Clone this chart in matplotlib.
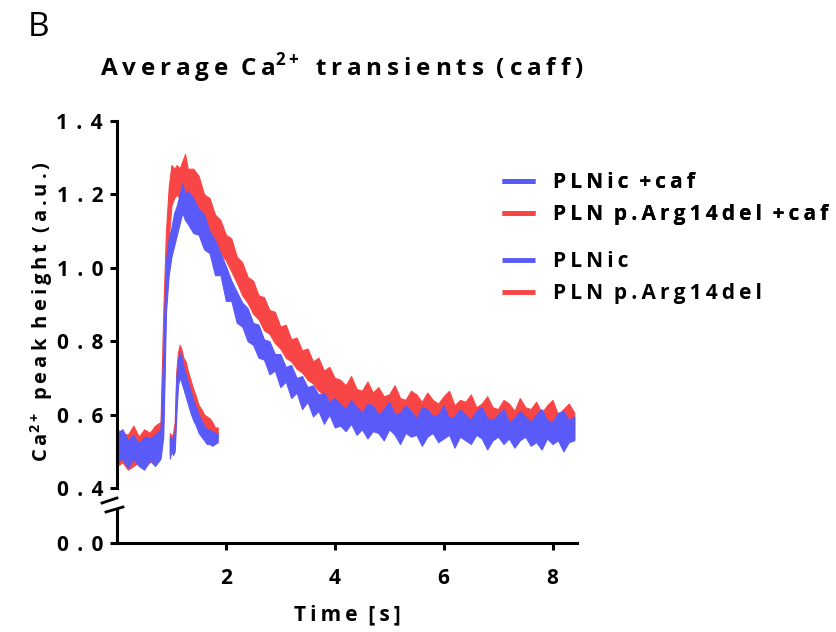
import matplotlib
matplotlib.use('Agg')
import matplotlib.pyplot as plt
from matplotlib.lines import Line2D
from matplotlib.ticker import FuncFormatter

plt.rcParams['font.family'] = ['Open Sans', 'DejaVu Sans']
plt.rcParams['font.weight'] = 'bold'
plt.rcParams['axes.labelweight'] = 'bold'
plt.rcParams['mathtext.fontset'] = 'custom'
plt.rcParams['mathtext.rm'] = 'Open Sans:bold'
plt.rcParams['mathtext.bf'] = 'Open Sans:bold'

BLUE = '#5a5af8'
RED = '#f84545'

# time axis of the caffeine transients (s)
t_caf = [0.0, 0.1, 0.2, 0.3, 0.4, 0.5, 0.6, 0.7, 0.8, 0.85, 0.9, 0.95, 1.0, 1.05,
         1.1, 1.15, 1.2, 1.25, 1.3, 1.4, 1.5, 1.6, 1.7, 1.8, 1.9, 2.0, 2.1, 2.2,
         2.3, 2.4, 2.5, 2.6, 2.7, 2.8, 2.9, 3.0, 3.1, 3.2, 3.3, 3.4, 3.5, 3.6,
         3.7, 3.8, 3.9, 4.0, 4.1, 4.2, 4.3, 4.4, 4.5, 4.6, 4.7, 4.8, 4.9, 5.0,
         5.1, 5.2, 5.3, 5.4, 5.5, 5.6, 5.7, 5.8, 5.9, 6.0, 6.1, 6.2, 6.3, 6.4,
         6.5, 6.6, 6.7, 6.8, 6.9, 7.0, 7.1, 7.2, 7.3, 7.4, 7.5, 7.6, 7.7, 7.8,
         7.9, 8.0, 8.1, 8.2, 8.3, 8.4]

# PLNic +caf (band: lower / upper edge of the noisy trace)
plnic_caf_lo = [0.47, 0.48, 0.455, 0.48, 0.46, 0.45, 0.475, 0.46, 0.48, 0.54, 0.88, 0.98,
                1.03, 1.06, 1.09, 1.12, 1.15, 1.13, 1.12,
                1.095, 1.09, 1.05, 1.04, 0.98, 0.98, 0.91, 0.91, 0.85, 0.84, 0.80,
                0.79, 0.755, 0.75, 0.71, 0.72, 0.675, 0.69, 0.645, 0.66, 0.615, 0.635,
                0.595, 0.61, 0.575, 0.60, 0.565,
                0.57, 0.555, 0.575, 0.545, 0.56, 0.535, 0.555, 0.55, 0.53, 0.56, 0.545,
                0.52, 0.55, 0.54, 0.545, 0.515, 0.54, 0.55, 0.525, 0.535, 0.545, 0.51,
                0.54, 0.53, 0.52, 0.545, 0.535, 0.505, 0.53, 0.54, 0.52, 0.535, 0.51,
                0.53, 0.54, 0.515, 0.525, 0.505, 0.535, 0.52, 0.53, 0.50, 0.525, 0.53]
plnic_caf_hi = [0.55, 0.56, 0.53, 0.545, 0.52, 0.54, 0.535, 0.545, 0.56, 0.78, 1.02, 1.08,
                1.11, 1.15, 1.17, 1.20, 1.23, 1.20, 1.21,
                1.19, 1.16, 1.145, 1.10, 1.075, 1.04, 1.005, 0.965, 0.935, 0.905, 0.89,
                0.85, 0.845, 0.805, 0.80, 0.765, 0.765, 0.73, 0.735, 0.70, 0.705, 0.675,
                0.68, 0.655, 0.66, 0.635, 0.645,
                0.63, 0.615, 0.64, 0.62, 0.605, 0.63, 0.625, 0.60, 0.615, 0.635, 0.60,
                0.605, 0.625, 0.61, 0.59, 0.62, 0.615, 0.595, 0.60, 0.625, 0.59, 0.595,
                0.615, 0.60, 0.585, 0.61, 0.62, 0.59, 0.585, 0.60, 0.615, 0.58, 0.59,
                0.61, 0.595, 0.58, 0.60, 0.615, 0.585, 0.58, 0.605, 0.61, 0.585, 0.595]

# PLN p.Arg14del +caf
arg14_caf_lo = [0.46, 0.47, 0.45, 0.46, 0.47, 0.455, 0.47, 0.48, 0.49, 0.58, 0.94, 1.08,
                1.17, 1.19, 1.20, 1.19, 1.21, 1.20, 1.19,
                1.19, 1.16, 1.13, 1.10, 1.075, 1.04, 1.02, 0.99, 0.96, 0.925, 0.905,
                0.875, 0.86, 0.83, 0.82, 0.795, 0.78, 0.755, 0.745, 0.725, 0.715, 0.695,
                0.685, 0.665, 0.655, 0.64, 0.635,
                0.62, 0.61, 0.615, 0.60, 0.595, 0.605, 0.59, 0.595, 0.58, 0.585, 0.59,
                0.575, 0.57, 0.58, 0.575, 0.565, 0.575, 0.565, 0.56, 0.565, 0.57, 0.555,
                0.56, 0.555, 0.56, 0.55, 0.555, 0.56, 0.545, 0.55, 0.555, 0.545, 0.545,
                0.55, 0.54, 0.54, 0.545, 0.535, 0.54, 0.545, 0.535, 0.54, 0.54, 0.535]
arg14_caf_hi = [0.56, 0.55, 0.545, 0.57, 0.54, 0.56, 0.55, 0.57, 0.58, 0.88, 1.10, 1.22,
                1.28, 1.27, 1.28, 1.27, 1.29, 1.31, 1.27,
                1.27, 1.25, 1.20, 1.19, 1.145, 1.13, 1.09, 1.08, 1.03, 1.015, 0.975,
                0.965, 0.925, 0.92, 0.885, 0.88, 0.84, 0.845, 0.805, 0.81, 0.775, 0.78,
                0.745, 0.755, 0.72, 0.73, 0.70,
                0.695, 0.68, 0.705, 0.67, 0.665, 0.69, 0.66, 0.675, 0.65, 0.655, 0.68,
                0.645, 0.64, 0.665, 0.655, 0.635, 0.66, 0.64, 0.63, 0.65, 0.665, 0.625,
                0.64, 0.635, 0.655, 0.62, 0.63, 0.65, 0.62, 0.615, 0.64, 0.63, 0.61,
                0.645, 0.62, 0.615, 0.635, 0.605, 0.625, 0.64, 0.60, 0.615, 0.63, 0.605]

# transients without caffeine
t_ctrl = [0.97, 1.0, 1.03, 1.06, 1.09, 1.12, 1.15, 1.18, 1.22, 1.26, 1.3, 1.35,
          1.4, 1.45, 1.5, 1.55, 1.6, 1.65, 1.7, 1.75, 1.8, 1.85]
plnic_lo = [0.48, 0.50, 0.49, 0.50, 0.60, 0.68, 0.70, 0.69, 0.67, 0.65, 0.63, 0.605,
            0.585, 0.57, 0.55, 0.54, 0.53, 0.52, 0.52, 0.515, 0.52, 0.525]
plnic_hi = [0.54, 0.53, 0.54, 0.55, 0.70, 0.75, 0.77, 0.76, 0.73, 0.71, 0.69, 0.665,
            0.64, 0.62, 0.60, 0.585, 0.57, 0.56, 0.56, 0.555, 0.55, 0.55]
arg14_lo = [0.49, 0.51, 0.50, 0.52, 0.63, 0.70, 0.72, 0.71, 0.69, 0.67, 0.65, 0.63,
            0.61, 0.595, 0.58, 0.57, 0.56, 0.55, 0.545, 0.54, 0.535, 0.54]
arg14_hi = [0.55, 0.54, 0.55, 0.58, 0.72, 0.77, 0.79, 0.78, 0.755, 0.745, 0.72, 0.695,
            0.67, 0.65, 0.625, 0.615, 0.60, 0.595, 0.59, 0.58, 0.565, 0.565]

labels = ['PLNic +caf', 'PLN p.Arg14del +caf', 'PLNic', 'PLN p.Arg14del']
y_ticks = [0.4, 0.6, 0.8, 1.0, 1.2, 1.4]
x_ticks = [2, 4, 6, 8]

SP = '\u2009'


def spaced(s, sp=SP):
    # letter spaced text, like the original
    return sp.join(s)


def spaced_words(s, sp=SP):
    return '  '.join(spaced(w, sp) for w in s.split(' '))


W, H = 836, 632
fig = plt.figure(figsize=(W / 100, H / 100), dpi=100)
ax = fig.add_axes([117 / W, 1 - 488 / H, 460 / W, 367 / H])
axb = fig.add_axes([117 / W, 1 - 543 / H, 460 / W, 33 / H])

# red behind blue
ax.fill_between(t_caf, arg14_caf_lo, arg14_caf_hi, color=RED, lw=0.8)
ax.fill_between(t_caf, plnic_caf_lo, plnic_caf_hi, color=BLUE, lw=0.8)
ax.fill_between(t_ctrl, arg14_lo, arg14_hi, color=RED, lw=0.8)
ax.fill_between(t_ctrl, plnic_lo, plnic_hi, color=BLUE, lw=0.8)

lw_sp = 2.2
tick_fmt = FuncFormatter(lambda v, p: spaced('%.1f' % v, SP * 2))
for a in (ax, axb):
    a.set_xlim(0, 8.45)
    for s in ('top', 'right'):
        a.spines[s].set_visible(False)
    a.spines['left'].set_linewidth(lw_sp)
    a.tick_params(axis='y', length=5, width=lw_sp, labelsize=15, pad=5)
    a.yaxis.set_major_formatter(tick_fmt)
    a.patch.set_alpha(0)

ax.set_ylim(0.4, 1.4)
ax.set_yticks(y_ticks)
ax.spines['bottom'].set_visible(False)
ax.set_xticks([])

axb.set_ylim(0, 0.09)
axb.set_yticks([0.0])
axb.spines['bottom'].set_linewidth(lw_sp)
axb.set_xticks(x_ticks)
axb.tick_params(axis='x', length=5, width=lw_sp, labelsize=15, pad=13)

# axis break marks
for (x0, y0, x1, y1) in [(102, 503, 117, 498), (106, 512, 123, 507)]:
    fig.add_artist(Line2D([x0 / W, x1 / W], [1 - y0 / H, 1 - y1 / H],
                          color='black', lw=2))

axb.set_xlabel(spaced_words('Time [s]'), fontsize=15, labelpad=11)
fig.text(42 / W, 1 - 312 / H,
         spaced('Ca') + r'$^{\mathbf{2+}}$' + '  ' + spaced_words('peak height (a.u.)'),
         rotation=90, ha='center', va='center', fontsize=14.5)

fig.text(342 / W, 1 - 68 / H,
         spaced('Average') + '  ' + spaced('Ca') + r'$^{\mathbf{2+}}$' + '  ' +
         spaced_words('transients (caff)'),
         ha='center', va='center', fontsize=17.5)
fig.text(28 / W, 1 - 27 / H, 'B', ha='left', va='center', fontsize=24,
         fontweight='normal')

colors = [BLUE, RED, BLUE, RED]
handles = [Line2D([], [], color=c, lw=3.5, solid_capstyle='butt') for c in colors]
txt = [spaced_words(l) for l in labels]
leg_kw = dict(loc='upper left', frameon=False, fontsize=15, handlelength=1.6,
              handletextpad=0.85, labelspacing=0.55, borderaxespad=0, borderpad=0)
leg1 = fig.legend(handles[:2], txt[:2], bbox_to_anchor=(502 / W, 1 - 172 / H), **leg_kw)
leg2 = fig.legend(handles[2:], txt[2:], bbox_to_anchor=(502 / W, 1 - 251 / H), **leg_kw)
fig.add_artist(leg1)

fig.savefig('out.png', dpi=100)
